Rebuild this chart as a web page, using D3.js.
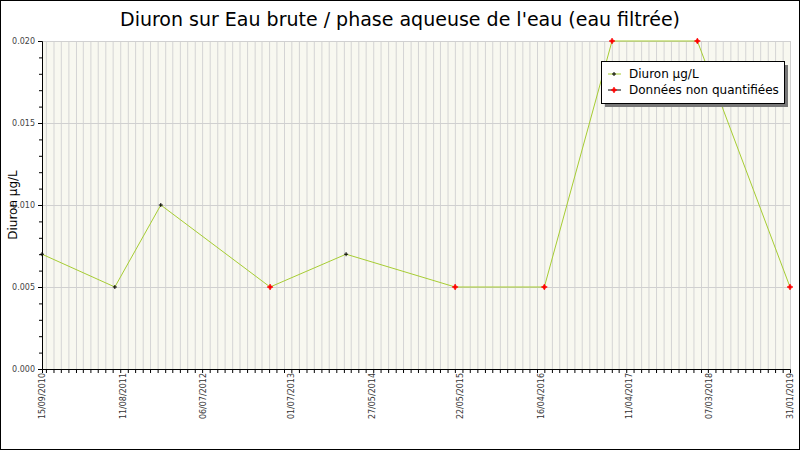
<!DOCTYPE html><html><head><meta charset="utf-8"><script src="https://d3js.org/d3.v7.min.js"></script>
<style>body{margin:0;background:#fff}text{font-family:"DejaVu Sans",sans-serif}</style></head><body><svg width="800" height="450"></svg><script>
const dates=["2010-09-15","2011-07-10","2012-01-14","2013-04-05","2014-02-10","2015-05-02","2016-05-01","2017-02-02","2018-01-17","2019-01-31"];
const values=[0.007,0.005,0.010,0.005,0.007,0.005,0.005,0.020,0.020,0.005];
const nonQuant=[false,false,false,true,false,true,true,true,true,true];
const tickLabels=["15/09/2010","11/08/2011","06/07/2012","01/07/2013","27/05/2014","22/05/2015","16/04/2016","11/04/2017","07/03/2018","31/01/2019"];
const yTicks=[0,0.005,0.010,0.015,0.020];
const P=d3.timeParse("%Y-%m-%d"),TP=d3.timeParse("%d/%m/%Y");
const svg=d3.select("svg");
svg.append("rect").attr("x",0.5).attr("y",0.5).attr("width",799).attr("height",449).attr("fill","#fff").attr("stroke","#000");
const L=42,R=790,T=41,B=369;
const x=d3.scaleTime().domain([P(dates[0]),P(dates[dates.length-1])]).range([L,R]);
const y=d3.scaleLinear().domain([0,0.02]).range([B,T]);
svg.append("rect").attr("x",L).attr("y",T).attr("width",R-L).attr("height",B-T).attr("fill","#f8f8f0");
const months=d3.timeMonth.range(x.domain()[0],x.domain()[1]);
svg.selectAll(".vg").data(months).join("line").attr("x1",d=>x(d)+0.5).attr("x2",d=>x(d)+0.5).attr("y1",T).attr("y2",B).attr("stroke","#d4d4d4");
svg.selectAll(".hg").data(yTicks).join("line").attr("x1",L).attr("x2",R).attr("y1",d=>y(d)+0.5).attr("y2",d=>y(d)+0.5).attr("stroke","#d0d0d0");
svg.append("line").attr("x1",R+0.5).attr("x2",R+0.5).attr("y1",T).attr("y2",B).attr("stroke","#d0d0d0");
const ya=d3.axisLeft(y).tickValues(yTicks).tickFormat(d3.format(".3f")).tickSize(4);
const yg=svg.append("g").attr("transform",`translate(${L},0)`).call(ya);
yg.selectAll("text").attr("font-size",8).attr("fill","#444");
svg.append("g").attr("transform",`translate(${L},0)`).call(d3.axisLeft(y).ticks(20).tickFormat("").tickSize(3)).select(".domain").remove();
svg.append("g").attr("transform",`translate(0,${B})`).call(d3.axisBottom(x).tickValues(months).tickFormat("").tickSize(4));
const lab=svg.append("g");
tickLabels.forEach(t=>{const xx=x(TP(t));lab.append("text").attr("transform",`translate(${xx+3},${B+4}) rotate(-90)`).attr("text-anchor","end").attr("font-size",8).attr("fill","#333").text(t);});
svg.append("text").attr("transform",`translate(17,${(T+B)/2}) rotate(-90)`).attr("text-anchor","middle").attr("font-size",12).text("Diuron µg/L");
svg.append("text").attr("x",400).attr("y",26).attr("text-anchor","middle").attr("font-size",19).text("Diuron sur Eau brute / phase aqueuse de l'eau (eau filtrée)");
const pts=dates.map((d,i)=>({d:P(d),v:values[i],nq:nonQuant[i]}));
svg.append("path").datum(pts).attr("d",d3.line().x(d=>x(d.d)).y(d=>y(d.v))).attr("fill","none").attr("stroke","#a6cc33").attr("stroke-width",1);
const star="M0,-3L1,-1L3,0L1,1L0,3L-1,1L-3,0L-1,-1Z";
pts.forEach(p=>{const g=svg.append("g").attr("transform",`translate(${x(p.d)},${y(p.v)})`);
 if(p.nq){g.append("path").attr("d",star).attr("fill","red").attr("stroke","red").attr("stroke-width",0.6);}
 else{g.append("path").attr("d","M-2,0H2M0,-2V2").attr("stroke","#000");}});
const lg=svg.append("g").attr("transform","translate(601,61)");
lg.append("rect").attr("x",4).attr("y",4).attr("width",183).attr("height",42).attr("fill","#777");
lg.append("rect").attr("x",0.5).attr("y",0.5).attr("width",183).attr("height",42).attr("fill","#fff").attr("stroke","#000");
lg.append("line").attr("x1",7).attr("x2",20).attr("y1",13).attr("y2",13).attr("stroke","#a6cc33");
lg.append("path").attr("d","M11,13H15M13,11V15").attr("stroke","#000");
lg.append("line").attr("x1",7).attr("x2",20).attr("y1",29).attr("y2",29).attr("stroke","#000");
lg.append("path").attr("transform","translate(13,29)").attr("d",star).attr("fill","red").attr("stroke","red").attr("stroke-width",0.6);
lg.append("text").attr("x",28).attr("y",17).attr("font-size",12).text("Diuron µg/L");
lg.append("text").attr("x",28).attr("y",33).attr("font-size",12).text("Données non quantifiées");
</script></body></html>
